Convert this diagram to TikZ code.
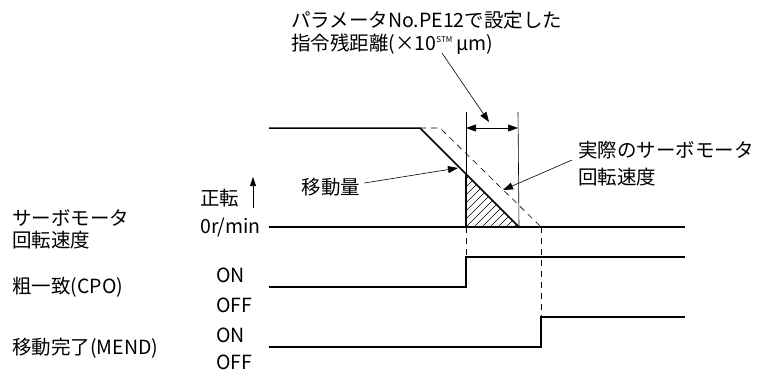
\documentclass[tikz,border=0pt]{standalone}
\usepackage{fontspec}
\setmainfont{Noto Sans CJK JP}
\usetikzlibrary{arrows.meta,positioning}

\begin{document}
\begin{tikzpicture}[
  x=1pt,y=-1pt,
  every node/.style={font=\fontsize{19.5}{27}\selectfont,inner sep=0pt},
  sig/.style={line width=1.5pt},
  fine/.style={line width=0.6pt},
  guide/.style={line width=0.8pt,dash pattern=on 6pt off 5pt},
  lead/.style={line width=0.6pt,-{Triangle[length=10pt,width=7pt]}},
  dim/.style={line width=0.6pt,{Triangle[length=10pt,width=7pt]}-{Triangle[length=10pt,width=7pt]}}
]
  \useasboundingbox (0,0) rectangle (773,372);

  % labels on the left
  \node[anchor=west] (lblSpeedA) at (12,218) {サーボモータ};
  \node[anchor=west] (lblSpeedB) at (12,240) {回転速度};
  \node[anchor=west] (lblCpo) at (12,287) {粗一致(CPO)};
  \node[anchor=west] (lblMend) at (12,348) {移動完了(MEND)};
  \node[anchor=west] (lblFwd) at (200,198) {正転};
  \node[anchor=east] (lblZero) at (261,227) {0r/min};
  \node[anchor=west] (onCpo) at (216,275) {ON};
  \node[anchor=west] (offCpo) at (216,305) {OFF};
  \node[anchor=west] (onMend) at (216,335) {ON};
  \node[anchor=west] (offMend) at (216,362) {OFF};
  \coordinate (fwdLow) at (253,208);
  \coordinate (fwdHigh) at (253,177);
  \draw[fine,-{Triangle[length=9pt,width=6pt]}] (fwdLow) -- (fwdHigh);

  % speed profile
  \coordinate (vStart) at (269,128);
  \coordinate (vDecel) at (420,128);
  \coordinate (vHatchTop) at (466,175);
  \coordinate (vHatchLow) at (466,227);
  \coordinate (vStop) at (519,227);
  \coordinate (vZero) at (269,227);
  \coordinate (vEnd) at (685,227);
  \coordinate (rDecel) at (440,128);
  \coordinate (rStop) at (541,227);
  \begin{scope}
    \clip (vHatchTop) -- (vHatchLow) -- (vStop) -- cycle;
    \foreach \s in {-56,-48,...,56}
      \draw[fine] (466+\s,227) -- ++(60,-60);
  \end{scope}
  \draw[guide,line width=0.6pt] (vDecel) -- (rDecel) -- (rStop);
  \draw[sig] (vStart) -- (vDecel) -- (vStop);
  \draw[sig] (vHatchTop) -- (vHatchLow);
  \draw[sig] (vZero) -- (vEnd);

  % distance dimension
  \coordinate (dimL) at (466,112);
  \coordinate (dimR) at (518,112);
  \coordinate (dimLa) at (466,128);
  \coordinate (dimRa) at (518,128);
  \draw[fine] (dimL) -- (vHatchTop);
  \draw[fine] (dimR) -- (vStop);
  \draw[dim] (dimLa) -- (dimRa);

  % signals
  \coordinate (cpoOn) at (466,257);
  \coordinate (mendOn) at (541,317);
  \draw[sig] (269,287) -- (466,287) -- (cpoOn) -- (685,257);
  \draw[sig] (269,347) -- (541,347) -- (mendOn) -- (685,317);
  \draw[guide] (vHatchLow) -- (cpoOn);
  \draw[guide] (rStop) -- (mendOn);

  % notes
  \node[anchor=west] (noteTop) at (291,20) {パラメータNo.PE12で設定した};
  \node[anchor=west] (noteTopB) at (291,44) {指令残距離(×10\textsuperscript{\fontsize{8}{8}\selectfont STM}\,μm)};
  \node (noteMove) at (331,187) {移動量};
  \node[anchor=west,align=left] (noteReal) at (578,164) {実際のサーボモータ\\回転速度};
  \coordinate (tipDist) at (489,122);
  \coordinate (tipMove) at (458,168);
  \coordinate (tipReal) at (503,190);
  \draw[lead] (442,53) -- (tipDist);
  \draw[lead] (noteMove.east) ++(4,-4) -- (tipMove);
  \draw[lead] (noteReal.west) ++(-6,-4) -- (tipReal);
\end{tikzpicture}
\end{document}
